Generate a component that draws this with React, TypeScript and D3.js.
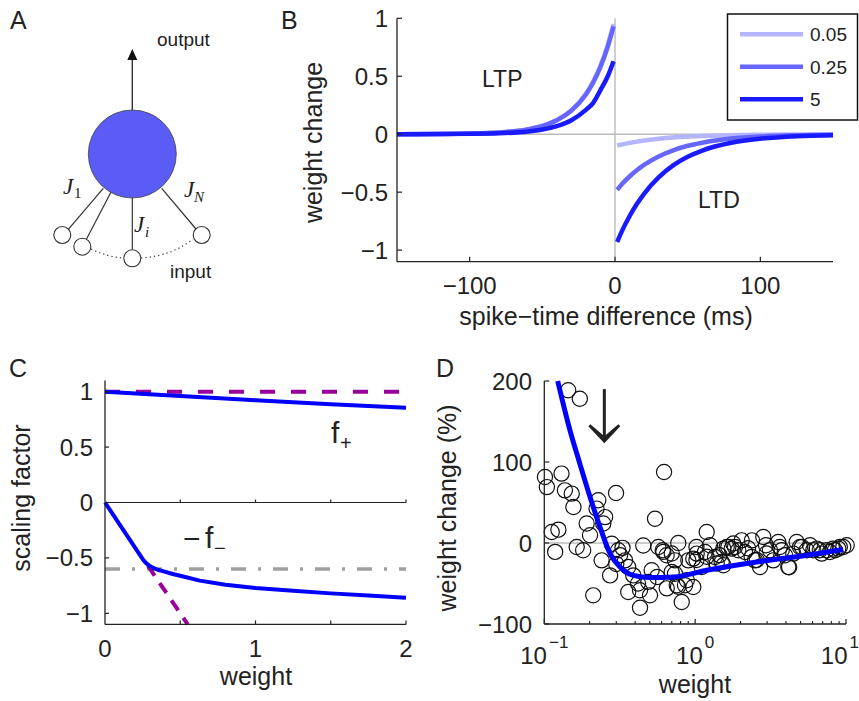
import React from "react";
import * as d3 from "d3";

const FONT = "'Liberation Sans', Arial, sans-serif";
const SERIF = "'Liberation Serif', 'DejaVu Serif', serif";

// ---------- Panel B data ----------
const ltpTimes = [-150, -120, -100, -80, -60, -50, -40, -30, -20, -15, -10, -5, -1];
const ltp005 = [0.0003, 0.0017, 0.0051, 0.0148, 0.043, 0.072, 0.122, 0.207, 0.35, 0.455, 0.592, 0.77, 0.95];
const ltp025 = [0.0003, 0.0017, 0.005, 0.0145, 0.042, 0.071, 0.12, 0.203, 0.343, 0.446, 0.58, 0.754, 0.93];
const ltp5 = [0.0002, 0.0009, 0.003, 0.0077, 0.0235, 0.041, 0.07, 0.12, 0.21, 0.27, 0.38, 0.5, 0.63];
const ltdTimes = [1.5, 5, 10, 15, 20, 30, 40, 50, 60, 80, 100, 125, 150];
const ltd005 = [-0.098, -0.088, -0.075, -0.064, -0.054, -0.039, -0.028, -0.021, -0.015, -0.008, -0.004, -0.002, -0.001];
const ltd025 = [-0.48, -0.428, -0.365, -0.311, -0.265, -0.192, -0.139, -0.1, -0.073, -0.038, -0.02, -0.009, -0.004];
const ltd5 = [-0.93, -0.83, -0.708, -0.603, -0.514, -0.373, -0.269, -0.195, -0.141, -0.074, -0.039, -0.017, -0.008];
const legendLabels = ["0.05", "0.25", "5"];
const legendColors = ["#b4b4ff", "#6666ff", "#1a1aff"];
const bXTicks = [-100, 0, 100];
const bYTicks = [-1, -0.5, 0, 0.5, 1];

// ---------- Panel C data ----------
const fPlusW = [0, 0.5, 1, 1.5, 2];
const fPlus = [1.0, 0.961, 0.923, 0.887, 0.854];
const fMinusW = [0, 0.255, 0.275, 0.295, 0.32, 0.35, 0.39, 0.45, 0.52, 0.63, 0.8, 1, 1.25, 1.5, 1.75, 2];
const fMinus = [0, -0.52, -0.55, -0.57, -0.59, -0.607, -0.622, -0.645, -0.668, -0.705, -0.742, -0.772, -0.797, -0.82, -0.84, -0.86];
const dashPlusW = [0, 2];
const dashPlus = [1, 1];
const dashMinusW = [0.27, 0.55];
const dashMinus = [-0.54, -1.1];
const grayLevel = -0.6;
const cXTicks = [0, 1, 2];
const cXMinor = [0.5, 1, 1.5, 2];
const cYTicks = [-1, -0.5, 0, 0.5, 1];
const cYLabels = ["\u22121", "\u22120.5", "0", "0.5", "1"];

// ---------- Panel D data ----------
const scatterW = [
  0.144, 0.172, 0.101, 0.104, 0.13, 0.137, 0.152, 0.156, 0.228, 0.299, 0.222, 0.253, 0.246, 0.191, 0.201,
  0.124, 0.112, 0.118, 0.164, 0.181, 0.28, 0.309, 0.318, 0.343, 0.36, 0.24, 0.273, 0.211, 0.389, 0.418,
  0.489, 0.36, 0.431, 0.502, 0.431, 0.515, 0.453, 0.542, 0.57, 0.615, 0.648, 0.622, 0.647, 0.735, 0.699,
  0.755, 0.857, 0.972, 0.815, 0.901, 0.972, 1.105, 1.162, 1.193, 1.254, 1.354, 1.5, 1.537, 1.659, 1.747,
  1.837, 1.932, 2.035, 2.14, 0.773, 1.024, 1.39, 1.619, 1.79, 2.371, 2.494, 2.691, 2.83, 3.134, 3.296,
  3.558, 3.748, 3.94, 4.145, 4.473, 4.712, 4.955, 5.49, 5.773, 6.07, 6.395, 6.902, 7.449, 7.83, 8.455,
  8.89, 9.59, 10.1, 2.24, 2.95, 2.38,
  0.735, 0.77, 0.88, 0.7, 0.61, 1.19, 1.02, 1.45, 1.54, 1.02, 2.56, 2.97, 3.64, 4.2, 5.1, 6.7, 8.2, 9.1,
  0.33, 0.3, 0.56,
];
const scatterV = [
  188.5, 178, 81.5, 69, 85.7, 65, 61, 44.4, 52.7, 61.7, 42.5, 32, 24, 24, 9.5,
  16.5, 13.6, -11, -5, -9, -1, -9, -15, -21.4, -29.6, -21.4, -40, -64.6, -40, -50,
  -48, -60.5, -58.4, -64.6, -80, -33.7, -3, 30, -5, -11, -56, 87.7, -15.2, -21.4, -35.8,
  -52.2, -52.2, -54.3, -72.8, -21.4, -19.3, -29.6, -11.1, 13.6, -2.8, -17.3, -23.5, -6.9, -4.9, -6.9,
  -4.9, -9, 3.3, -11.1, 0, -13.1, -25.4, -4.9, -0.7, -17.3, -21.4, -29.6, 7.4, -9, -21.4,
  1.2, -9, -15.2, -29.6, -13.1, 1.2, -4.9, -9, -2.8, -9, -6.9, -13.1, -9, -11.1, -9,
  -6.9, -4.9, -2.8, -6.5, -2.8, 3.3,
  -38, -54, -46, -13, -9, -17, -21, -15, -27.5, -5, -21, -13, -5, -30, -5, -9, -7, -5,
  -6, -26, -42,
];
const fitW = [0.1227, 0.148, 0.172, 0.201, 0.234, 0.273, 0.318, 0.389, 0.502, 0.716, 1.193, 2.558, 5.49, 9.59];
const fitV = [200, 139, 98, 56.8, 19.8, -13, -29.6, -40, -42.7, -42, -33.7, -23.5, -15.2, -8.1];
const arrowW = 0.25;
const arrowFrom = 190;
const arrowTo = 123;
const dXTicks = [0.1, 1, 10];
const dXExp = ["\u22121", "0", "1"];
const dYTicks = [-100, 0, 100, 200];
const dYLabels = ["\u2212100", "0", "100", "200"];

function fmtB(v: number) {
  return (v < 0 ? "\u2212" : "") + String(Math.abs(v));
}

export default function App() {
  // B scales
  const bx = d3.scaleLinear().domain([-150, 150]).range([397, 833]);
  const by = d3.scaleLinear().domain([-1.1, 1]).range([261.7, 18.3]);
  const bLine = d3
    .line<[number, number]>()
    .x((d) => bx(d[0]))
    .y((d) => by(d[1]))
    .curve(d3.curveMonotoneX);
  const ltpSeries = [ltp005, ltp025, ltp5];
  const ltdSeries = [ltd005, ltd025, ltd5];

  // C scales
  const cx = d3.scaleLinear().domain([0, 2]).range([105, 406]);
  const cy = d3.scaleLinear().domain([-1.1, 1.1]).range([624.4, 380.6]);
  const cLine = d3
    .line<[number, number]>()
    .x((d) => cx(d[0]))
    .y((d) => cy(d[1]))
    .curve(d3.curveLinear);

  // D scales
  const dx = d3.scaleLog().domain([0.1, 10]).range([544.3, 846]);
  const dy = d3.scaleLinear().domain([-100, 200]).range([624, 381]);
  const dLine = d3
    .line<[number, number]>()
    .x((d) => dx(d[0]))
    .y((d) => dy(d[1]))
    .curve(d3.curveMonotoneX);
  const dMinor: number[] = [];
  [0.1, 1].forEach((dec) => {
    for (let k = 2; k <= 9; k++) dMinor.push(dec * k);
  });

  const zip = (a: number[], b: number[]) => a.map((v, i) => [v, b[i]] as [number, number]);
  const axisStroke = "#222";

  // arrow in D
  const ax = dx(arrowW);
  const ay0 = dy(arrowFrom);
  const ay1 = dy(arrowTo);

  return (
    <svg
      width={859}
      height={701}
      style={{ position: "absolute", left: 0, top: 0, background: "#fff" }}
      fontFamily={FONT}
    >
      <rect x={0} y={0} width={859} height={701} fill="#fff" />

      {/* ================= Panel A ================= */}
      <text x={10} y={29} fontSize={25} fill="#222">A</text>
      <text x={157} y={46} fontSize={19} fill="#222">output</text>
      <line x1={132.3} y1={110} x2={132.3} y2={58} stroke="#222" strokeWidth={1.3} />
      <path d="M132.3,49 L127.3,60 L137.3,60 Z" fill="#111" />
      <line x1={68.3} y1={229.3} x2={103.3} y2={188.3} stroke="#333" strokeWidth={1.2} />
      <line x1={86} y1={240} x2={111.7} y2={190.7} stroke="#333" strokeWidth={1.2} />
      <line x1={132.3} y1={249.5} x2={132.3} y2={197} stroke="#333" strokeWidth={1.2} />
      <line x1={196} y1={229} x2={161.7} y2={188.3} stroke="#333" strokeWidth={1.2} />
      <circle cx={132.3} cy={154} r={44} fill="#5b5bf6" stroke="#444" strokeWidth={0.8} />
      <path d="M91,249 Q108,257 123,258" fill="none" stroke="#444" strokeWidth={1.2} strokeDasharray="1.3,3" />
      <path d="M141,258 Q172,256 193,239" fill="none" stroke="#444" strokeWidth={1.2} strokeDasharray="1.3,3" />
      {[[62.3, 235], [82.3, 246.7], [132.3, 258.3], [201.7, 235]].map((c, i) => (
        <circle key={i} cx={c[0]} cy={c[1]} r={8.5} fill="#fff" stroke="#333" strokeWidth={1.1} />
      ))}
      <text x={63} y={194} fontSize={23} fontFamily={SERIF} fontStyle="italic" fill="#222">J</text>
      <text x={74} y={198} fontSize={15} fontFamily={SERIF} fill="#222">1</text>
      <text x={184} y={197} fontSize={23} fontFamily={SERIF} fontStyle="italic" fill="#222">J</text>
      <text x={194} y={202} fontSize={15} fontFamily={SERIF} fontStyle="italic" fill="#222">N</text>
      <text x={134} y={232} fontSize={23} fontFamily={SERIF} fontStyle="italic" fill="#222">J</text>
      <text x={145} y={237} fontSize={15} fontFamily={SERIF} fontStyle="italic" fill="#222">i</text>
      <text x={170} y={278} fontSize={19} fill="#222">input</text>

      {/* ================= Panel B ================= */}
      <text x={281} y={29} fontSize={25} fill="#222">B</text>
      <line x1={bx(0)} y1={by(1)} x2={bx(0)} y2={by(-1.1)} stroke="#bbb" strokeWidth={1.4} />
      <line x1={bx(-150)} y1={by(0)} x2={bx(150)} y2={by(0)} stroke="#bbb" strokeWidth={1.4} />
      {ltpSeries.map((s, i) => (
        <path key={"ltp" + i} d={bLine(zip(ltpTimes, s)) || ""} fill="none" stroke={legendColors[i]} strokeWidth={4.5} />
      ))}
      {ltdSeries.map((s, i) => (
        <path key={"ltd" + i} d={bLine(zip(ltdTimes, s)) || ""} fill="none" stroke={legendColors[i]} strokeWidth={4.5} />
      ))}
      {/* axes */}
      <line x1={bx(-150)} y1={by(-1.1)} x2={bx(150)} y2={by(-1.1)} stroke={axisStroke} strokeWidth={1.3} />
      <line x1={bx(-150)} y1={by(-1.1)} x2={bx(-150)} y2={by(1)} stroke={axisStroke} strokeWidth={1.3} />
      {bXTicks.map((t) => (
        <g key={"bx" + t}>
          <line x1={bx(t)} x2={bx(t)} y1={by(-1.1)} y2={by(-1.1) - 5} stroke={axisStroke} strokeWidth={1.2} />
          <text x={bx(t)} y={294} fontSize={24} textAnchor="middle" fill="#222">{fmtB(t)}</text>
        </g>
      ))}
      {bYTicks.map((t) => (
        <g key={"by" + t}>
          <line x1={bx(-150)} x2={bx(-150) + 5} y1={by(t)} y2={by(t)} stroke={axisStroke} strokeWidth={1.2} />
          <text x={388} y={by(t) + 8.5} fontSize={24} textAnchor="end" fill="#222">{fmtB(t)}</text>
        </g>
      ))}
      <text x={606} y={325} fontSize={25} textAnchor="middle" fill="#222">spike{"\u2212"}time difference (ms)</text>
      <text transform={`translate(322,142.5) rotate(-90)`} fontSize={25} textAnchor="middle" fill="#222">weight change</text>
      <text x={482} y={87} fontSize={23} fill="#222">LTP</text>
      <text x={698} y={208} fontSize={23} fill="#222">LTD</text>
      {/* legend */}
      <rect x={727.5} y={14} width={130} height={106} fill="#fff" stroke="#111" strokeWidth={1.5} />
      {legendLabels.map((l, i) => (
        <g key={"lg" + i}>
          <line x1={740} x2={803} y1={34.3 + i * 32.5} y2={34.3 + i * 32.5} stroke={legendColors[i]} strokeWidth={4.5} />
          <text x={810} y={34.3 + i * 32.5 + 7} fontSize={19} fill="#222">{l}</text>
        </g>
      ))}

      {/* ================= Panel C ================= */}
      <text x={9} y={377} fontSize={25} fill="#222">C</text>
      <line x1={cx(0)} x2={cx(2)} y1={cy(grayLevel)} y2={cy(grayLevel)} stroke="#a0a0a0" strokeWidth={3.5} strokeDasharray="15,12,3,12" />
      <path d={cLine(zip(dashPlusW, dashPlus)) || ""} fill="none" stroke="#990099" strokeWidth={4} strokeDasharray="15,16" />
      <path d={cLine(zip(dashMinusW, dashMinus)) || ""} fill="none" stroke="#990099" strokeWidth={4} strokeDasharray="12,9" strokeDashoffset={-4} />
      <path d={cLine(zip(fPlusW, fPlus)) || ""} fill="none" stroke="#0000ff" strokeWidth={4} />
      <path d={cLine(zip(fMinusW, fMinus)) || ""} fill="none" stroke="#0000ff" strokeWidth={4} strokeLinejoin="round" />
      {/* zero line with ticks */}
      <line x1={cx(0)} x2={cx(2)} y1={cy(0)} y2={cy(0)} stroke={axisStroke} strokeWidth={1.2} />
      {cXMinor.map((t) => (
        <line key={"cz" + t} x1={cx(t)} x2={cx(t)} y1={cy(0)} y2={cy(0) - 3} stroke={axisStroke} strokeWidth={1.2} />
      ))}
      {/* axes */}
      <line x1={cx(0)} x2={cx(2)} y1={cy(-1.1)} y2={cy(-1.1)} stroke={axisStroke} strokeWidth={1.3} />
      <line x1={cx(0)} x2={cx(0)} y1={cy(-1.1)} y2={cy(1.1)} stroke={axisStroke} strokeWidth={1.3} />
      {cXMinor.map((t) => (
        <line key={"cb" + t} x1={cx(t)} x2={cx(t)} y1={cy(-1.1)} y2={cy(-1.1) - 4} stroke={axisStroke} strokeWidth={1.2} />
      ))}
      {cXTicks.map((t) => (
        <text key={"cxl" + t} x={cx(t)} y={657} fontSize={24} textAnchor="middle" fill="#222">{String(t)}</text>
      ))}
      {cYTicks.map((t, i) => (
        <g key={"cy" + t}>
          <line x1={cx(0)} x2={cx(0) + 4} y1={cy(t)} y2={cy(t)} stroke={axisStroke} strokeWidth={1.2} />
          <text x={93} y={cy(t) + 8.5} fontSize={24} textAnchor="end" fill="#222">{cYLabels[i]}</text>
        </g>
      ))}
      <text x={256} y={685} fontSize={25} textAnchor="middle" fill="#222">weight</text>
      <text transform={`translate(30,498) rotate(-90)`} fontSize={25} textAnchor="middle" fill="#222">scaling factor</text>
      <text x={331} y={443} fontSize={30} fill="#222">f</text>
      <text x={340} y={450} fontSize={20} fill="#222">+</text>
      <text x={183} y={549} fontSize={30} fill="#222">{"\u2212"}</text>
      <text x={205} y={548} fontSize={30} fill="#222">f</text>
      <text x={214} y={555} fontSize={20} fill="#222">{"\u2212"}</text>

      {/* ================= Panel D ================= */}
      <text x={436} y={377} fontSize={25} fill="#222">D</text>
      <line x1={dx(0.1)} x2={dx(10)} y1={dy(0)} y2={dy(0)} stroke="#bbb" strokeWidth={1.4} />
      {scatterW.map((w, i) => (
        <circle key={"sc" + i} cx={dx(w)} cy={dy(scatterV[i])} r={7.6} fill="none" stroke="#111" strokeWidth={1.2} />
      ))}
      <path d={dLine(zip(fitW, fitV)) || ""} fill="none" stroke="#0000ff" strokeWidth={5} />
      {/* arrow */}
      <line x1={ax} x2={ax} y1={ay0} y2={ay1 - 4} stroke="#222" strokeWidth={3} />
      <path
        d={`M${ax},${ay1} L${ax - 16},${ay1 - 17} L${ax - 14},${ay1 - 19} L${ax},${ay1 - 7} L${ax + 14},${ay1 - 19} L${ax + 16},${ay1 - 17} Z`}
        fill="#222"
      />
      {/* axes */}
      <line x1={dx(0.1)} x2={dx(10)} y1={dy(-100)} y2={dy(-100)} stroke={axisStroke} strokeWidth={1.3} />
      <line x1={dx(0.1)} x2={dx(0.1)} y1={dy(-100)} y2={dy(200)} stroke={axisStroke} strokeWidth={1.3} />
      {dMinor.map((t, i) => (
        <line key={"dm" + i} x1={dx(t)} x2={dx(t)} y1={dy(-100)} y2={dy(-100) - 3} stroke={axisStroke} strokeWidth={1.1} />
      ))}
      {dXTicks.map((t, i) => {
        const w10 = 2 * 0.556 * 24;
        const wsup = dXExp[i].length === 2 ? (0.584 + 0.556) * 17 : 0.556 * 17;
        const start = Math.min(dx(t) - (w10 + 2 + wsup) / 2, 859 - w10 - 2 - wsup);
        return (
          <g key={"dxt" + t}>
            <line x1={dx(t)} x2={dx(t)} y1={dy(-100)} y2={dy(-100) - 5} stroke={axisStroke} strokeWidth={1.2} />
            <text x={start} y={664} fontSize={24} fill="#222">10</text>
            <text x={start + w10 + 2} y={648} fontSize={17} fill="#222">{dXExp[i]}</text>
          </g>
        );
      })}
      {dYTicks.map((t, i) => (
        <g key={"dyt" + t}>
          <line x1={dx(0.1)} x2={dx(0.1) + 5} y1={dy(t)} y2={dy(t)} stroke={axisStroke} strokeWidth={1.2} />
          <text x={532} y={dy(t) + 8.5} fontSize={24} textAnchor="end" fill="#222">{dYLabels[i]}</text>
        </g>
      ))}
      <text x={695} y={693} fontSize={25} textAnchor="middle" fill="#222">weight</text>
      <text transform={`translate(456,508) rotate(-90)`} fontSize={25} textAnchor="middle" fill="#222">weight change (%)</text>
    </svg>
  );
}
